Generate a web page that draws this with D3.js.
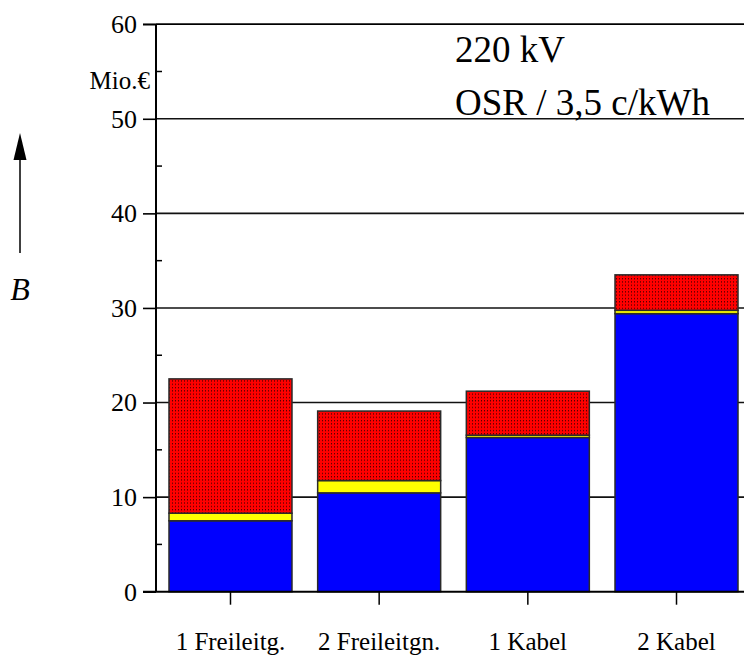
<!DOCTYPE html>
<html>
<head>
<meta charset="utf-8">
<script src="https://cdn.jsdelivr.net/npm/d3@7"></script>
<style>
  html, body { margin: 0; padding: 0; background: #fff; }
  svg { display: block; }
  text { font-family: "Liberation Serif", "Times New Roman", serif; fill: #000; }
</style>
</head>
<body>
<svg id="chart" width="744" height="657"></svg>
<script>
// ---- data ----
const categories = ["1 Freileitg.", "2 Freileitgn.", "1 Kabel", "2 Kabel"];
const blueValues = [7.5, 10.45, 16.3, 29.4];
const yellowValues = [0.8, 1.3, 0.25, 0.35];
const redValues = [14.2, 7.35, 4.65, 3.75];
const yTicks = [0, 10, 20, 30, 40, 50, 60];
const yMinorTicks = [5, 15, 25, 35, 45, 55];
const seriesKeys = ["blue", "yellow", "red"];
const unitLabel = "Mio.€";
const titleLines = ["220 kV", "OSR / 3,5 c/kWh"];
const axisSymbol = "B";

// ---- layout ----
const svg = d3.select("#chart");
const x0 = 156, yBottom = 591.7, yTop = 24.2, xRight = 744;

const x = d3.scaleBand().domain(categories).range([156, 751])
  .paddingInner(0.1727).paddingOuter(0.0874);
const y = d3.scaleLinear().domain([0, 60]).range([yBottom, yTop]);

const table = categories.map((c, i) => ({ cat: c, blue: blueValues[i], yellow: yellowValues[i], red: redValues[i] }));
const stacked = d3.stack().keys(seriesKeys)(table);
const colors = { blue: "#0000ff", yellow: "#ffff00", red: "url(#dots)" };

// pattern for red
const defs = svg.append("defs");
const pat = defs.append("pattern").attr("id", "dots").attr("patternUnits", "userSpaceOnUse")
  .attr("width", 3).attr("height", 3.3);
pat.append("rect").attr("width", 3).attr("height", 3.3).attr("fill", "#ff0000");
pat.append("rect").attr("x", 1).attr("y", 1).attr("width", 1).attr("height", 1).attr("fill", "#200000");

// gridlines
svg.append("g").selectAll("line").data(yTicks.filter(d => d > 0)).join("line")
  .attr("x1", x0).attr("x2", xRight)
  .attr("y1", d => y(d)).attr("y2", d => y(d))
  .attr("stroke", "#111").attr("stroke-width", 1.6);

// bars
svg.append("g").selectAll("g").data(stacked).join("g")
  .attr("fill", d => colors[d.key])
  .selectAll("rect").data(d => d).join("rect")
  .attr("x", d => x(d.data.cat))
  .attr("width", x.bandwidth())
  .attr("y", d => y(d[1]))
  .attr("height", d => y(d[0]) - y(d[1]))
  .attr("stroke", "#2a2a2a").attr("stroke-width", 1.5);

// left axis
const yAxis = d3.axisLeft(y).tickValues(yTicks).tickSize(13).tickPadding(6);
const gy = svg.append("g").attr("transform", `translate(${x0},0)`).call(yAxis);
gy.select(".domain").attr("stroke", "#000").attr("stroke-width", 2).attr("d", `M0,${yTop}V${yBottom}`);
gy.selectAll(".tick line").attr("stroke", "#000").attr("stroke-width", 1.6);
gy.selectAll(".tick text").attr("font-size", 26).attr("font-family", "Liberation Serif").attr("fill", "#000");
// minor ticks (inside)
svg.append("g").selectAll("line").data(yMinorTicks).join("line")
  .attr("x1", x0).attr("x2", x0 + 6)
  .attr("y1", d => y(d)).attr("y2", d => y(d))
  .attr("stroke", "#000").attr("stroke-width", 1.5);

// bottom axis
const xAxis = d3.axisBottom(x).tickSize(13).tickPadding(28);
const gx = svg.append("g").attr("transform", `translate(0,${yBottom})`).call(xAxis);
gx.select(".domain").attr("stroke", "#000").attr("stroke-width", 2).attr("d", `M143,0H${xRight}`);
gx.selectAll(".tick line").attr("stroke", "#000").attr("stroke-width", 1.5);
gx.selectAll(".tick text").attr("font-size", 25).attr("font-family", "Liberation Serif").attr("fill", "#000");

// top border line at 60
svg.append("line").attr("x1", 143).attr("x2", xRight).attr("y1", y(60)).attr("y2", y(60))
  .attr("stroke", "#000").attr("stroke-width", 1.6);

// unit label
svg.append("text").attr("x", 150).attr("y", 89).attr("text-anchor", "end")
  .attr("font-size", 25).text(unitLabel);

// title texts
svg.append("text").attr("x", 455).attr("y", 62).attr("font-size", 37).text(titleLines[0]);
svg.append("text").attr("x", 455).attr("y", 115).attr("font-size", 37).text(titleLines[1]);

// arrow + B
svg.append("line").attr("x1", 20).attr("x2", 20).attr("y1", 253).attr("y2", 156)
  .attr("stroke", "#000").attr("stroke-width", 1.5);
svg.append("path").attr("d", "M13.5,160 L20,133 L26.5,160 Z").attr("fill", "#000");
svg.append("text").attr("x", 20).attr("y", 300).attr("text-anchor", "middle")
  .attr("font-size", 32).attr("font-style", "italic").text(axisSymbol);
</script>
</body>
</html>
